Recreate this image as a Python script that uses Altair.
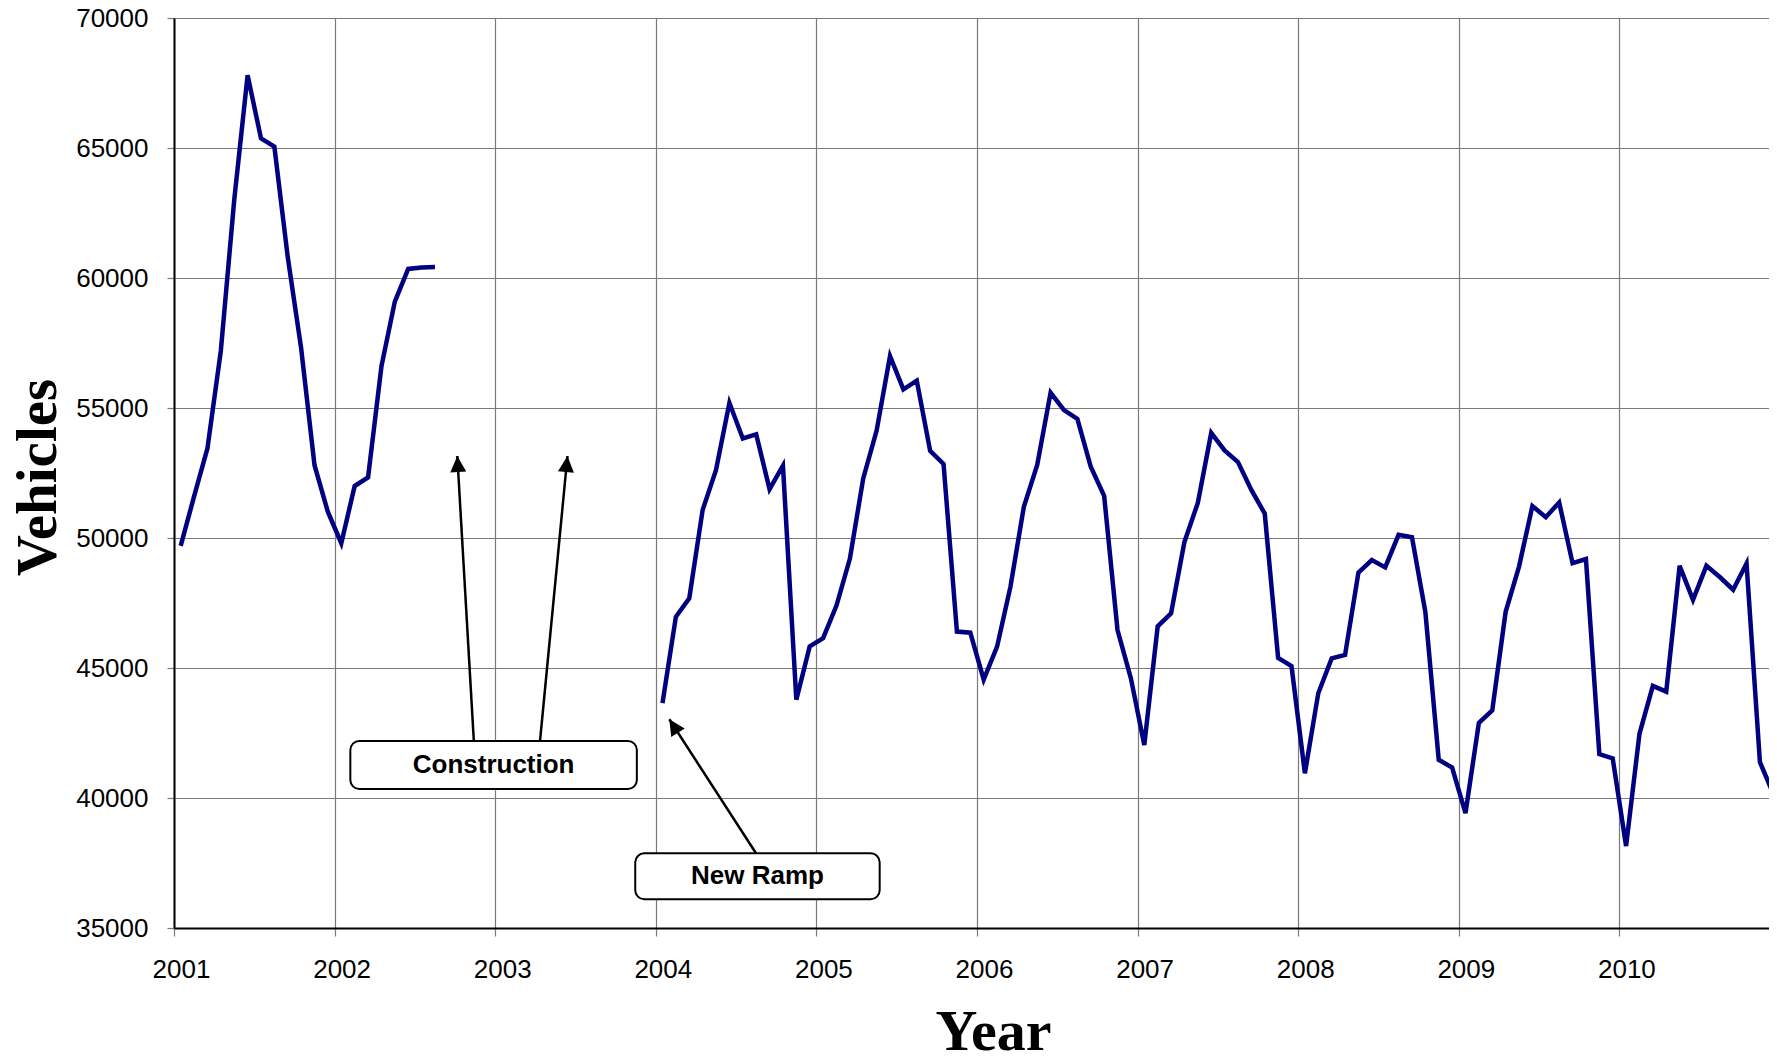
import math
import altair as alt
import pandas as pd

# ---- data (monthly vehicle counts) ----
vals_2001_2002 = [49700, 51600, 53450, 57200, 63000, 67800, 65370, 65050, 60800, 57300, 52800, 51000,
                  49800, 52000, 52330, 56600, 59090, 60350, 60400, 60420]
vals_2004_2010 = [
    43650, 46970, 47680, 51080, 52620, 55200, 53830, 53990, 51880, 52780, 43780, 45830,
    46150, 47400, 49200, 52290, 54130, 57000, 55720, 56050, 53350, 52850, 46400, 46360,
    44550, 45820, 48130, 51200, 52810, 55590, 54920, 54580, 52740, 51620, 46460, 44600,
    42040, 46600, 47100, 49850, 51350, 54040, 53370, 52920, 51850, 50940, 45390, 45070,
    40950, 44030, 45370, 45500, 48670, 49150, 48870, 50120, 50030, 47160, 41470, 41170,
    39420, 42890, 43370, 47160, 48900, 51230, 50800, 51370, 49030, 49190, 41690, 41520,
    38150, 42470, 44310, 44090, 48930, 47620, 48930, 48500, 48010, 49020, 41380, 40160,
]
x_ticks = list(range(2001, 2011))
y_ticks = list(range(35000, 70001, 5000))

# annotation boxes (in data coordinates)
box_labels = ["Construction", "New Ramp"]
box_t = [2002.098, 2003.872]
box_t2 = [2003.882, 2005.394]
box_v = [42192, 37873]
box_v2 = [40346, 36104]

# arrows: tail (t, v) -> tip (t2, v2)
arrow_t = [2002.867, 2003.279, 2004.624]
arrow_v = [42192, 42192, 37873]
arrow_t2 = [2002.764, 2003.450, 2004.084]
arrow_v2 = [53154, 53154, 43027]

W, H = 1595, 910
X0, X1 = 2001, 2010.9315
Y0, Y1 = 35000, 70000

rows = []
for i, v in enumerate(vals_2001_2002):
    rows.append({"t": 2001 + (i + 0.5) / 12, "v": v, "seg": "a"})
for i, v in enumerate(vals_2004_2010):
    rows.append({"t": 2004 + (i + 0.5) / 12, "v": v, "seg": "b"})
df = pd.DataFrame(rows)

boxes = pd.DataFrame({
    "label": box_labels, "t": box_t, "t2": box_t2, "v": box_v, "v2": box_v2,
})
boxes["tc"] = (boxes["t"] + boxes["t2"]) / 2
boxes["vc"] = (boxes["v"] + boxes["v2"]) / 2

pxx = W / (X1 - X0)
pxy = H / (Y1 - Y0)
angles = []
for a, b, c, d in zip(arrow_t, arrow_v, arrow_t2, arrow_v2):
    dx = (c - a) * pxx
    dy = -(d - b) * pxy
    angles.append(math.degrees(math.atan2(dx, -dy)) % 360)
arrows = pd.DataFrame({"t": arrow_t, "v": arrow_v, "t2": arrow_t2, "v2": arrow_v2, "ang": angles})

xscale = alt.Scale(domain=[X0, X1], nice=False, zero=False)
yscale = alt.Scale(domain=[Y0, Y1], nice=False, zero=False)

xaxis = alt.Axis(
    values=x_ticks, format="d", title="Year",
    titleFont="Liberation Serif", titleFontSize=58, titleFontWeight="bold", titleColor="black",
    titleX=819, titleY=121, titleBaseline="alphabetic", titleAlign="center",
    labelFont="Liberation Sans", labelFontSize=26, labelColor="black", labelOffset=7,
    labelFlush=False,
    labelPadding=20, tickSize=8, tickColor="#7a7a7a", tickWidth=1.2,
    domainColor="black", domainWidth=2,
    grid=True, gridColor="#7a7a7a", gridWidth=1.2,
)
yaxis = alt.Axis(
    values=y_ticks, format="d", title="Vehicles",
    titleFont="Liberation Serif", titleFontSize=57, titleFontWeight="bold", titleColor="black",
    titleX=-136, titleY=459, titleAngle=270, titleBaseline="middle", titleAlign="center",
    labelFont="Liberation Sans", labelFontSize=26, labelColor="black",
    labelFlush=False,
    labelPadding=19, tickSize=7, tickColor="#7a7a7a", tickWidth=1.2,
    domainColor="black", domainWidth=2,
    grid=True, gridColor="#7a7a7a", gridWidth=1.2,
)

line = alt.Chart(df).mark_line(color="#000080", strokeWidth=4.5).encode(
    x=alt.X("t:Q", scale=xscale, axis=xaxis),
    y=alt.Y("v:Q", scale=yscale, axis=yaxis),
    detail="seg:N",
)

rects = alt.Chart(boxes).mark_rect(fill="white", stroke="black", strokeWidth=2, cornerRadius=9).encode(
    x=alt.X("t:Q", scale=xscale, axis=xaxis),
    x2="t2:Q",
    y=alt.Y("v:Q", scale=yscale, axis=yaxis),
    y2="v2:Q",
)

texts = alt.Chart(boxes).mark_text(
    font="Liberation Sans", fontSize=26, fontWeight="bold", color="black",
    align="center", baseline="middle",
).encode(
    x=alt.X("tc:Q", scale=xscale, axis=xaxis),
    y=alt.Y("vc:Q", scale=yscale, axis=yaxis),
    text="label:N",
)

shafts = alt.Chart(arrows).mark_rule(color="black", strokeWidth=2.5).encode(
    x=alt.X("t:Q", scale=xscale, axis=xaxis),
    y=alt.Y("v:Q", scale=yscale, axis=yaxis),
    x2="t2:Q",
    y2="v2:Q",
)

heads = alt.Chart(arrows).mark_point(
    shape="M0,0L-0.5,1L0.5,1Z", filled=True, color="black", opacity=1, size=1024,
).encode(
    x=alt.X("t2:Q", scale=xscale, axis=xaxis),
    y=alt.Y("v2:Q", scale=yscale, axis=yaxis),
    angle=alt.Angle("ang:Q", scale=None),
)

chart = alt.layer(line, rects, texts, shafts, heads).properties(
    width=W, height=H,
    padding={"left": 166, "top": 10, "right": 0, "bottom": 124},
    autosize=alt.AutoSizeParams(type="none"),
).configure_view(
    fill="#f8f8f8", stroke="#7a7a7a", strokeWidth=1.5,
).configure(background="white")

chart.save("out.html", embed_options={"renderer": "svg", "actions": False})
